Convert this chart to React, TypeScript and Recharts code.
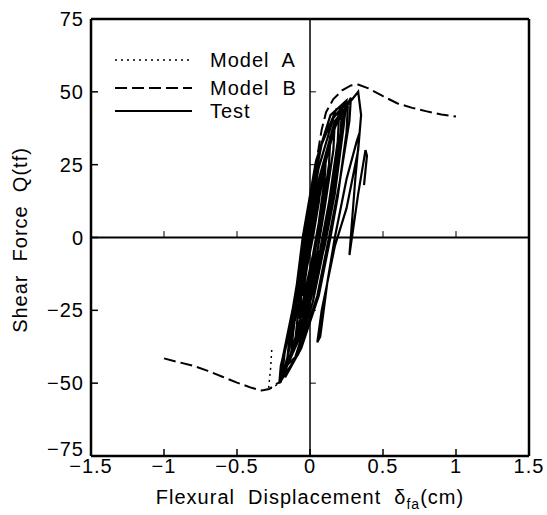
import React from "react"
import { LineChart, Line, XAxis, YAxis, ReferenceLine, Legend } from "recharts"

const X_TICKS = [-1.5, -1, -0.5, 0, 0.5, 1, 1.5]
const Y_TICKS = [-75, -50, -25, 0, 25, 50, 75]

// Model A (dotted) - only the strength-drop branch shows outside the loops
const MODEL_A: [number, number][] = [
  [-0.262, -38.6], [-0.27, -45], [-0.285, -52.3], [-0.24, -51], [-0.2, -49.5], [-0.15, -40], [-0.1, -28],
]

// Model B (dashed)
const MODEL_B: [number, number][] = [
  [-1, -41.5], [-0.9, -42.8], [-0.8, -44], [-0.7, -45.8], [-0.6, -47.8], [-0.5, -49.8],
  [-0.4, -51.6], [-0.33, -52.5], [-0.28, -52], [-0.24, -50.5], [-0.2, -49.5], [-0.15, -40],
  [-0.1, -28], [-0.05, -12], [0, 4], [0.04, 25], [0.08, 37], [0.11, 43], [0.16, 47.5],
  [0.22, 50.5], [0.28, 52.2], [0.33, 52.5], [0.4, 51.2], [0.5, 48.5], [0.6, 46],
  [0.7, 44.5], [0.8, 43.3], [0.9, 42.2], [1, 41.5],
]

// Test hysteresis loops (solid)
const TEST: [number, number][] = [
  [0, 0], [0.03, 8], [0.05, 12], [0.04, 6], [0.01, -2], [-0.02, -9], [-0.03, -12], [-0.01, -5], [0.01, 0],
  [0.04, 8], [0.07, 16], [0.08, 20], [0.06, 12], [0.02, 0], [-0.02, -10], [-0.05, -20], [-0.04, -12], [-0.01, -3],
  [0.03, 5], [0.08, 18], [0.11, 28], [0.1, 20], [0.06, 5], [0.02, -6], [-0.04, -20], [-0.07, -28], [-0.06, -20], [-0.02, -6],
  [0.03, 6], [0.09, 22], [0.14, 35], [0.13, 25], [0.08, 8], [0.03, -6], [-0.04, -22], [-0.1, -35], [-0.08, -25], [-0.03, -8],
  [0.02, 4], [0.1, 24], [0.17, 40], [0.16, 30], [0.1, 10], [0.05, -5], [-0.05, -25], [-0.13, -40], [-0.11, -30], [-0.04, -10],
  [0.02, 6], [0.1, 25], [0.2, 43], [0.19, 33], [0.13, 12], [0.07, -4], [-0.05, -28], [-0.16, -44], [-0.14, -34], [-0.06, -12],
  [0, 3], [0.1, 27], [0.22, 45], [0.21, 36], [0.15, 15], [0.09, -2], [-0.05, -30], [-0.19, -47], [-0.17, -38], [-0.08, -15],
  [-0.03, 0], [0.06, 24], [0.16, 41], [0.24, 46], [0.22, 36], [0.16, 14], [0.11, 0], [0.02, -22], [-0.1, -41], [-0.2, -46],
  [-0.15, -34], [-0.09, -16], [-0.05, 0], [0.04, 26], [0.14, 42], [0.25, 47], [0.23, 38], [0.17, 15], [0.1, -3],
  [-0.05, -32], [-0.2, -49], [-0.19, -42], [-0.1, -20], [-0.03, -2],
  [0.05, 15], [0.15, 36], [0.28, 48], [0.27, 40], [0.2, 18], [0.13, 0], [0.05, -20], [-0.08, -40], [-0.21, -50],
  [-0.2, -44], [-0.12, -28], [-0.06, -8], [0.0, 12], [0.08, 32], [0.18, 44], [0.26, 46], [0.25, 36], [0.19, 14],
  [0.14, 0], [0.06, -20], [-0.06, -38], [-0.17, -48], [-0.15, -40], [-0.1, -25], [-0.04, -5],
  [0.05, 18], [0.17, 40], [0.33, 50], [0.35, 42], [0.33, 30], [0.25, 10], [0.17, -3], [0.08, -25], [0.05, -36],
  [0.07, -34], [0.12, -15], [0.17, 0],
  [0.25, 20], [0.32, 33], [0.34, 36], [0.31, 20], [0.27, -6], [0.33, 15], [0.38, 30], [0.39, 28], [0.37, 18],
]

const toPts = (arr: [number, number][]) => arr.map(([x, y]) => ({ x, y }))

const FONT = "'Liberation Sans', Arial, Helvetica, sans-serif"
const SPACING = 1
const fmt = (v: number) => (v < 0 ? "\u2212" + Math.abs(v) : String(v))

const BottomTick = ({ x, y, payload }: any) => (
  <g>
    <line x1={x} y1={y} x2={x} y2={y - 7} stroke="#000" strokeWidth={1.5} />
    <text x={x} y={y + 17} textAnchor="middle" fontSize={20} letterSpacing={SPACING} fontFamily={FONT} fill="#000">
      {fmt(payload.value)}
    </text>
  </g>
)

const LeftTick = ({ x, y, payload }: any) => (
  <g>
    <line x1={x} y1={y} x2={x + 7} y2={y} stroke="#000" strokeWidth={1.5} />
    <text
      x={x - 7}
      y={y + (payload.value === -75 ? 0 : 7)}
      textAnchor="end"
      fontSize={20}
      letterSpacing={SPACING}
      fontFamily={FONT}
      fill="#000"
    >
      {fmt(payload.value)}
    </text>
  </g>
)

const TopTick = ({ x, y }: any) => <line x1={x} y1={y} x2={x} y2={y + 7} stroke="#000" strokeWidth={1.5} />
const RightTick = ({ x, y }: any) => <line x1={x} y1={y} x2={x - 7} y2={y} stroke="#000" strokeWidth={1.5} />

const XLabel = ({ viewBox }: any) => (
  <text
    x={viewBox.x + viewBox.width / 2}
    y={viewBox.y + 48}
    textAnchor="middle"
    fontSize={20}
    letterSpacing={SPACING}
    fontFamily={FONT}
    fill="#000"
    style={{ whiteSpace: "pre" }}
  >
    {"Flexural  Displacement  \u03b4"}
    <tspan fontSize={14} dy={5}>fa</tspan>
    <tspan dy={-5}>(cm)</tspan>
  </text>
)

const YLabel = () => (
  <text
    x={27}
    y={240}
    transform="rotate(-90, 27, 240)"
    textAnchor="middle"
    fontSize={20}
    letterSpacing={SPACING}
    fontFamily={FONT}
    fill="#000"
    style={{ whiteSpace: "pre" }}
  >
    {"Shear  Force  Q(tf)"}
  </text>
)

const LEGEND_ROWS = [
  { name: "Model  A", dash: "2 4", width: 1.5, y: 12 },
  { name: "Model  B", dash: "12 5", width: 2, y: 40 },
  { name: "Test", dash: undefined, width: 2, y: 63 },
]

const renderLegend = () => (
  <svg width={200} height={80}>
    {LEGEND_ROWS.map((r) => (
      <g key={r.name}>
        <line x1={5} x2={82} y1={r.y} y2={r.y} stroke="#000" strokeWidth={r.width} strokeDasharray={r.dash} />
        <text
          x={100}
          y={r.y + 7}
          fontSize={20}
          letterSpacing={SPACING}
          fontFamily={FONT}
          fill="#000"
          style={{ whiteSpace: "pre" }}
        >
          {r.name}
        </text>
      </g>
    ))}
  </svg>
)

export default function App() {
  return (
    <div style={{ position: "absolute", left: 0, top: 0, width: 547, height: 515, background: "#fff" }}>
      <LineChart width={547} height={515} margin={{ top: 18, right: 17, bottom: 4, left: 31 }}>
        <XAxis
          type="number"
          dataKey="x"
          domain={[-1.5, 1.5]}
          ticks={X_TICKS}
          interval={0}
          allowDataOverflow
          height={55}
          tickSize={0}
          tickMargin={0}
          tick={BottomTick}
          axisLine={{ stroke: "#000", strokeWidth: 2.5 }}
          label={{ content: XLabel }}
        />
        <XAxis
          xAxisId="top"
          orientation="top"
          type="number"
          dataKey="x"
          domain={[-1.5, 1.5]}
          ticks={X_TICKS}
          interval={0}
          height={1}
          tickSize={0}
          tickMargin={0}
          tick={TopTick}
          axisLine={{ stroke: "#000", strokeWidth: 2.5 }}
        />
        <YAxis
          type="number"
          domain={[-75, 75]}
          ticks={Y_TICKS}
          interval={0}
          allowDataOverflow
          width={60}
          tickSize={0}
          tickMargin={0}
          tick={LeftTick}
          axisLine={{ stroke: "#000", strokeWidth: 2.5 }}
          label={{ content: YLabel }}
        />
        <YAxis
          yAxisId="right"
          orientation="right"
          type="number"
          domain={[-75, 75]}
          ticks={Y_TICKS}
          interval={0}
          width={1}
          tickSize={0}
          tickMargin={0}
          tick={RightTick}
          axisLine={{ stroke: "#000", strokeWidth: 2.5 }}
        />
        <ReferenceLine x={0} stroke="#000" strokeWidth={1.5} />
        <ReferenceLine y={0} stroke="#000" strokeWidth={2} />
        {Y_TICKS.filter((v) => v !== 0 && Math.abs(v) !== 75).map((v) => (
          <ReferenceLine key={"yt" + v} segment={[{ x: 0, y: v }, { x: 0.04, y: v }]} stroke="#000" strokeWidth={1} />
        ))}
        {X_TICKS.filter((v) => v !== 0 && Math.abs(v) !== 1.5).map((v) => (
          <ReferenceLine key={"xt" + v} segment={[{ x: v, y: 0 }, { x: v, y: 2.2 }]} stroke="#000" strokeWidth={1} />
        ))}
        <Legend
          layout="vertical"
          align="center"
          verticalAlign="middle"
          content={renderLegend}
          wrapperStyle={{ position: "absolute", left: 110, top: 48, width: 200, height: 80 }}
        />
        <Line
          data={toPts(MODEL_B)}
          dataKey="y"
          type="linear"
          stroke="#000"
          strokeWidth={2}
          strokeDasharray="12 5"
          dot={false}
          isAnimationActive={false}
        />
        <Line
          data={toPts(MODEL_A)}
          dataKey="y"
          type="linear"
          stroke="#000"
          strokeWidth={1.5}
          strokeDasharray="2 4"
          dot={false}
          isAnimationActive={false}
        />
        <Line
          data={toPts(TEST)}
          dataKey="y"
          type="linear"
          stroke="#000"
          strokeWidth={2.2}
          dot={false}
          isAnimationActive={false}
        />
      </LineChart>
    </div>
  )
}
